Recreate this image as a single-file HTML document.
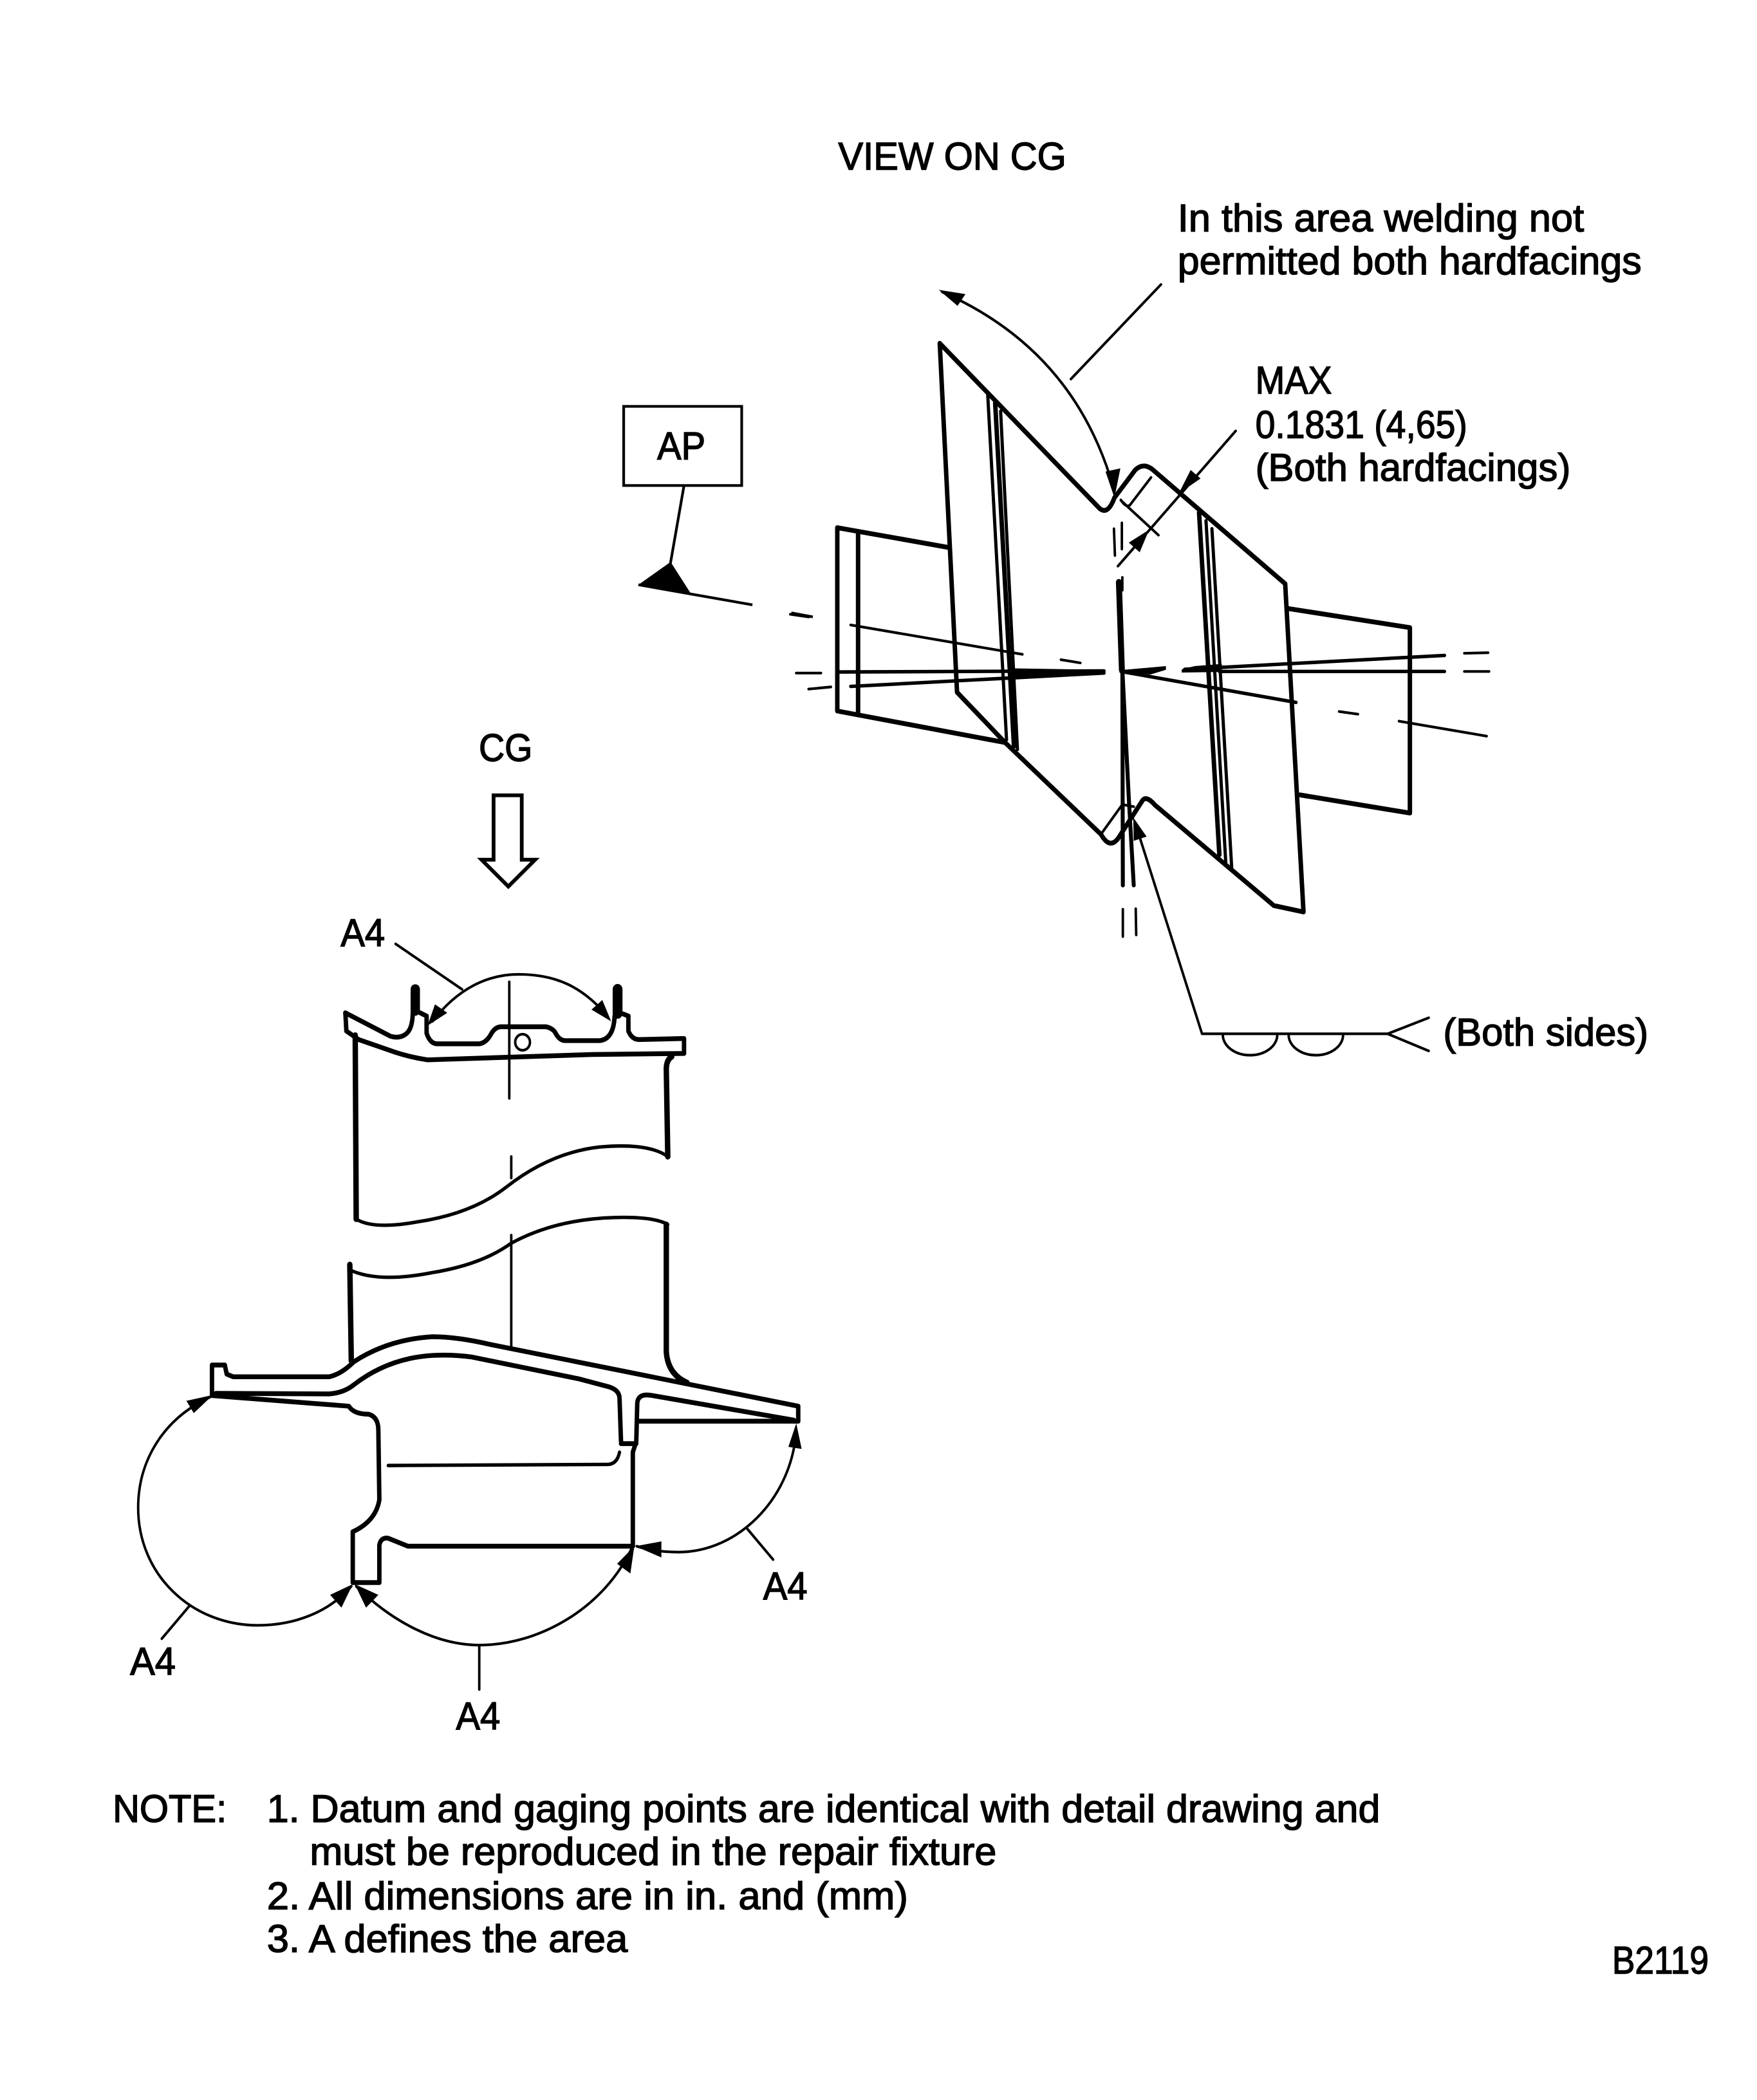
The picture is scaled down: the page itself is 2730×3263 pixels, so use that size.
<!DOCTYPE html>
<html><head><meta charset="utf-8"><title>View on CG</title>
<style>
html,body{margin:0;padding:0;background:#fff}
svg{display:block}
text{font-family:"Liberation Sans",sans-serif;font-size:29px;fill:#000;stroke:#000;stroke-width:.7px}
.g path,.g line,.g ellipse,.g polyline{fill:none;stroke:#000;stroke-linejoin:round;stroke-linecap:round}
.g .k{stroke-width:9}.g .m{stroke-width:6.5}.g .t{stroke-width:5}
.g polygon{fill:#000;stroke:none}
</style></head><body>
<svg width="2730" height="3263" viewBox="0 0 1310 1565.8" xmlns="http://www.w3.org/2000/svg">
<rect width="1310" height="1565.8" fill="#fff"/>
<g transform="translate(-1,-1.5)">
<text x="626" y="128" textLength="170" lengthAdjust="spacingAndGlyphs">VIEW ON CG</text>
<text x="879" y="174" textLength="303" lengthAdjust="spacingAndGlyphs">In this area welding not</text>
<text x="879" y="206" textLength="346" lengthAdjust="spacingAndGlyphs">permitted both hardfacings</text>
<text x="937" y="295" textLength="57" lengthAdjust="spacingAndGlyphs">MAX</text>
<text x="937" y="328" textLength="158" lengthAdjust="spacingAndGlyphs">0.1831 (4,65)</text>
<text x="937" y="360" textLength="235" lengthAdjust="spacingAndGlyphs">(Both hardfacings)</text>
<text x="1077" y="781" textLength="153" lengthAdjust="spacingAndGlyphs">(Both sides)</text>
<text x="491" y="344" textLength="36" lengthAdjust="spacingAndGlyphs">AP</text>
<text x="358" y="569" textLength="40" lengthAdjust="spacingAndGlyphs">CG</text>
<text x="255" y="707" textLength="33" lengthAdjust="spacingAndGlyphs">A4</text>
<text x="570" y="1194" textLength="33" lengthAdjust="spacingAndGlyphs">A4</text>
<text x="98" y="1250" textLength="34" lengthAdjust="spacingAndGlyphs">A4</text>
<text x="341" y="1291" textLength="33" lengthAdjust="spacingAndGlyphs">A4</text>
<text x="85" y="1360" textLength="85" lengthAdjust="spacingAndGlyphs">NOTE:</text>
<text x="200" y="1360" textLength="830" lengthAdjust="spacingAndGlyphs">1. Datum and gaging points are identical with detail drawing and</text>
<text x="232" y="1392" textLength="512" lengthAdjust="spacingAndGlyphs">must be reproduced in the repair fixture</text>
<text x="200" y="1425" textLength="478" lengthAdjust="spacingAndGlyphs">2. All dimensions are in in. and (mm)</text>
<text x="200" y="1457" textLength="269" lengthAdjust="spacingAndGlyphs">3. A defines the area</text>
<text x="1203" y="1473" textLength="72" lengthAdjust="spacingAndGlyphs">B2119</text>
</g>

<!-- AP box, datum, CG arrow -->
<rect x="465" y="303" width="88" height="59" fill="none" stroke="#000" stroke-width="2"/>
<g stroke="#000" stroke-width="2" fill="none">
<line x1="510" y1="362" x2="499" y2="425"/>
<line x1="476" y1="436" x2="561" y2="451"/>
<line x1="590" y1="457" x2="606" y2="460"/>
</g>
<polygon points="476,436 500,419 516,444" fill="#000"/>
<polygon points="368,593 389,593 389,641 399,641 379,661 359,641 368,641" fill="none" stroke="#000" stroke-width="2.8"/>

<!-- top view -->
<g class="g" transform="translate(575.2,193) scale(.369,.3985)">
<path class="k" d="M340,158 L663,467 Q680,480 693,447 L735,395 Q752,380 771,395 L1038,608 L1075,1222 L1015,1210 L775,1022 Q758,1004 750,1013 L700,1085 Q683,1105 666,1077 L472,905 L375,811 Z"/>
<path class="m" d="M437,255 L475,900"/><path class="k" d="M452,270 L490,912"/><path class="m" d="M463,285 L497,918"/>
<path class="k" d="M864,475 L905,1115"/><path class="m" d="M878,490 L918,1130"/><path class="m" d="M890,505 L930,1140"/>
<path class="k" d="M358,540 L133,503 L133,846 L472,905"/>
<path class="k" d="M175,510 L175,852"/>
<path class="k" d="M1042,654 L1290,690 L1290,1037 L1068,1003"/>
<path class="m" d="M135,773 L672,771"/><path class="t" d="M50,775 L100,775"/>
<polygon points="480,766 672,769 672,774 480,784"/>
<polygon points="700,770 797,762 797,769 765,778"/>
<polygon points="829,768 855,762 910,758 910,773 829,774"/>
<path class="m" d="M905,772 L1360,772"/>
<path class="t" d="M1400,772 L1450,772"/>
<path class="t" d="M160,685 L507,740 M585,750 L624,756 M38,665 L75,670"/>
<path class="m" d="M706,772 L1060,830"/>
<path class="t" d="M1147,847 L1185,852 M1268,865 L1445,893"/>
<path class="m" d="M160,800 L672,775"/><path class="t" d="M75,805 L120,801"/>
<path class="m" d="M835,768 L1360,742"/><path class="t" d="M1400,738 L1448,737"/>
<path style="stroke-width:12" d="M702,605 L708,768"/><path class="t" d="M709,596 L709,620"/>
<path style="stroke-width:8" d="M709,768 L710,1172 M709,768 L722,1009 L732,1172"/>
<path class="t" d="M710,1217 L710,1268 M736,1216 L737,1265 M692,505 L694,555 M708,494 L708,543"/>
<path class="t" d="M767,409 L724,461 Q716,466 706,451 M706,452 L782,517"/>
<path class="t" d="M667,1075 L709,1021 L732,1025"/>
<path class="t" d="M787,48 L605,225"/>
<path class="t" d="M345,62 Q610,170 690,425"/>
<polygon points="338,58 392,66 376,88"/><polygon points="693,447 675,398 705,392"/>
<path class="t" d="M938,322 L700,575"/>
<polygon points="823,439 847,395 867,411"/><polygon points="763,507 722,531 744,549"/>
<path class="t" d="M745,1085 L870,1450 L1245,1450 M1328,1420 L1245,1450 L1328,1482"/>
<polygon points="731,1045 732,1089 758,1081"/>
<path class="t" d="M912,1452 A55,38 0 0 0 1022,1452 M1045,1452 A55,38 0 0 0 1155,1452"/>
</g>

<!-- bottom section -->
<g class="g" transform="translate(72.9,671.9) scale(.367,.3985)">
<path class="k" d="M503,209 L595,253 Q615,258 628,247 Q640,237 640,205 L640,170"/>
<path class="k" d="M655,209 L668,215 L668,247 Q675,267 690,267 L775,267 Q790,265 800,247 Q808,235 820,235 L910,235 Q925,238 930,247 Q938,261 950,261 L1020,261 Q1048,258 1050,215"/>
<path style="stroke-width:19" d="M645,165 L645,205"/>
<path style="stroke-width:20" d="M1056,165 L1056,210"/>
<path class="k" d="M1067,211 L1078,215 L1078,243 Q1085,259 1100,259 L1191,257 L1191,285 L1005,287 L670,297 Q635,292 605,283 L530,259 L505,243 L503,209"/>
<path style="stroke-width:11" d="M523,251 L525,595"/>
<path class="m" d="M525,595 Q560,615 650,600 Q760,585 830,535 Q920,470 1020,460 Q1120,452 1158,478"/>
<path style="stroke-width:11" d="M1166,291 Q1155,297 1155,315 L1158,478"/>
<path style="stroke-width:11" d="M512,680 L515,860"/>
<path class="m" d="M512,690 Q570,715 680,695 Q780,680 840,640 Q930,595 1050,592 Q1130,590 1158,605"/>
<path style="stroke-width:11" d="M1155,605 L1155,843 Q1158,885 1197,901"/>
<path class="t" d="M836,151 L836,369 M840,478 L840,518 M840,625 L840,835"/>
<ellipse class="t" cx="863" cy="264" rx="15" ry="15"/>
<path class="k" d="M232,925 L232,868 L258,868 L262,885 L275,890 L470,890 Q495,885 520,862 Q590,820 680,815 Q730,815 800,830 L1423,945 L1423,973"/>
<path class="k" d="M232,925 L510,945 Q520,960 550,960 Q570,965 570,990 L572,1120 Q565,1160 518,1180 L518,1275 L572,1275 L572,1205 Q575,1190 590,1192 L630,1207 L1087,1207"/>
<path class="k" d="M240,921 L470,922 Q500,920 520,905 Q590,855 680,850 Q720,848 760,853 L978,894 L1039,909 Q1060,915 1060,931 L1063,1011 M1063,1015 L1094,1015"/>
<path class="m" d="M1060,1031 Q1055,1054 1035,1054 L590,1056"/>
<path class="k" d="M1414,971 L1126,925 Q1098,920 1096,939 L1094,1011 L1087,1031 L1087,1207"/>
<path class="k" d="M1100,973 L1423,973"/>
<path class="t" d="M680,225 C730,165 790,137 855,137 C930,137 985,160 1035,215 M605,80 L740,165"/>
<polygon points="670,233 685,193 710,209"/><polygon points="1043,225 1025,185 1003,203"/>
<path class="t" d="M228,928 C130,970 82,1050 82,1135 C82,1260 190,1355 325,1355 C400,1355 470,1330 515,1282 M185,1320 L130,1380"/>
<polygon points="234,924 180,935 195,958"/><polygon points="518,1278 472,1298 495,1322"/>
<path class="t" d="M525,1282 C600,1350 690,1392 775,1392 C900,1392 1030,1320 1085,1210 M775,1392 L775,1475"/>
<polygon points="522,1278 545,1322 570,1298"/><polygon points="1090,1207 1055,1240 1082,1258"/>
<path class="t" d="M1095,1207 C1120,1215 1150,1218 1180,1218 C1300,1218 1405,1120 1418,1000 M1320,1175 L1372,1232"/>
<polygon points="1092,1207 1145,1198 1145,1228"/><polygon points="1419,977 1403,1021 1430,1025"/>
</g>
</svg>
</body></html>
